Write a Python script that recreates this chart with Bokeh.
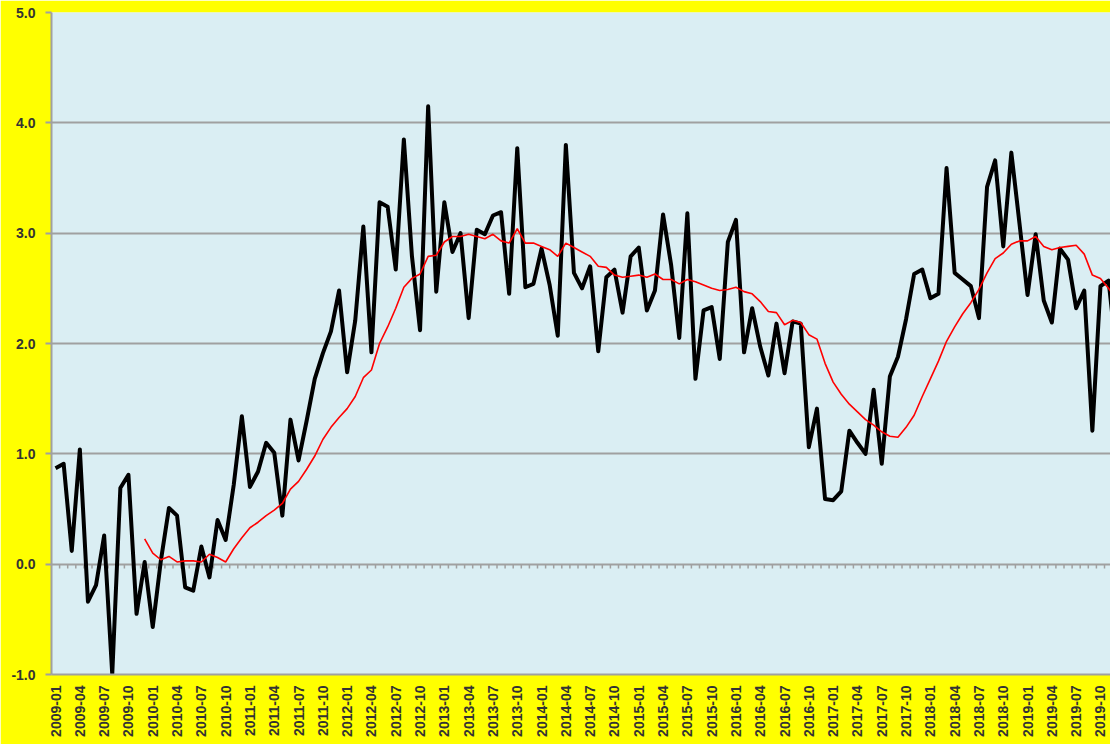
from bokeh.plotting import figure
from bokeh.models import FixedTicker, Range1d, NumeralTickFormatter
from bokeh.embed import file_html
from bokeh.resources import INLINE

# Month categories 2009-01 .. 2019-12
months = [f"{y}-{m:02d}" for y in range(2009, 2020) for m in range(1, 13)]

# Monthly values (black line)
monthly = [
    0.87, 0.91, 0.12, 1.04, -0.34, -0.19, 0.26, -1.00, 0.69, 0.81, -0.45, 0.02,   # 2009
    -0.57, 0.03, 0.51, 0.44, -0.21, -0.24, 0.16, -0.12, 0.40, 0.22, 0.72, 1.34,   # 2010
    0.70, 0.84, 1.10, 1.01, 0.44, 1.31, 0.94, 1.30, 1.68, 1.91, 2.11, 2.48,       # 2011
    1.74, 2.21, 3.06, 1.92, 3.28, 3.24, 2.67, 3.85, 2.79, 2.12, 4.15, 2.47,       # 2012
    3.28, 2.83, 3.00, 2.23, 3.03, 2.99, 3.16, 3.19, 2.45, 3.77, 2.51, 2.54,       # 2013
    2.86, 2.53, 2.07, 3.80, 2.64, 2.50, 2.70, 1.93, 2.60, 2.67, 2.28, 2.79,       # 2014
    2.87, 2.30, 2.48, 3.17, 2.71, 2.05, 3.18, 1.68, 2.30, 2.33, 1.86, 2.92,       # 2015
    3.12, 1.92, 2.32, 1.97, 1.71, 2.18, 1.73, 2.20, 2.18, 1.06, 1.41, 0.59,       # 2016
    0.58, 0.66, 1.21, 1.10, 1.00, 1.58, 0.91, 1.70, 1.88, 2.22, 2.63, 2.67,       # 2017
    2.41, 2.45, 3.59, 2.64, 2.58, 2.52, 2.23, 3.42, 3.66, 2.88, 3.73, 3.09,       # 2018
    2.44, 2.99, 2.39, 2.19, 2.86, 2.76, 2.32, 2.48, 1.21, 2.52, 2.57, 1.90,       # 2019
]

# 12-month moving average (red line), starts 2009-12
ma_start = "2009-12"
moving_avg = [
    0.23,                                                                          # 2009-12
    0.10, 0.04, 0.07, 0.02, 0.03, 0.03, 0.02, 0.09, 0.06, 0.02, 0.14, 0.24,       # 2010
    0.33, 0.38, 0.44, 0.49, 0.55, 0.68, 0.75, 0.86, 0.98, 1.13, 1.24, 1.33,       # 2011
    1.41, 1.52, 1.69, 1.76, 2.00, 2.15, 2.32, 2.51, 2.59, 2.63, 2.79, 2.80,       # 2012
    2.92, 2.97, 2.97, 2.99, 2.97, 2.95, 2.99, 2.93, 2.91, 3.04, 2.91, 2.91,       # 2013
    2.88, 2.85, 2.79, 2.91, 2.87, 2.83, 2.79, 2.70, 2.69, 2.62, 2.60, 2.61,       # 2014
    2.62, 2.60, 2.63, 2.58, 2.58, 2.54, 2.58, 2.56, 2.53, 2.50, 2.48, 2.49,       # 2015
    2.51, 2.47, 2.45, 2.38, 2.29, 2.28, 2.17, 2.21, 2.19, 2.08, 2.04, 1.82,       # 2016
    1.65, 1.54, 1.45, 1.38, 1.31, 1.26, 1.20, 1.16, 1.15, 1.24, 1.35, 1.52,       # 2017
    1.68, 1.84, 2.02, 2.15, 2.27, 2.37, 2.49, 2.64, 2.77, 2.82, 2.90, 2.93,       # 2018
    2.93, 2.97, 2.88, 2.85, 2.87, 2.88, 2.89, 2.81, 2.62, 2.59, 2.50, 2.40,       # 2019
]

y_ticks = [-1, 0, 1, 2, 3, 4, 5]

x_idx = list(range(len(monthly)))
ma_offset = months.index(ma_start)
ma_x = [ma_offset + i for i in range(len(moving_avg))]
label_ticks = list(range(0, len(months), 3))

GRID = "#a0a0a0"
TEXT = "#333333"

p = figure(width=1110, height=744,
           x_range=Range1d(-0.5, 130.24), y_range=Range1d(-1, 5),
           output_backend="svg", toolbar_location=None,
           min_border_left=51, min_border_right=0, min_border_top=12, min_border_bottom=70,
           background_fill_color="#DAEEF3", border_fill_color="#FFFF00",
           outline_line_color=None)

# y axis
p.yaxis.ticker = FixedTicker(ticks=y_ticks)
p.yaxis.formatter = NumeralTickFormatter(format="0.0")
p.yaxis.axis_line_color = GRID
p.yaxis.axis_line_width = 2
p.yaxis.major_tick_line_color = GRID
p.yaxis.major_tick_line_width = 2
p.yaxis.major_tick_out = 6
p.yaxis.major_tick_in = 0
p.yaxis.minor_tick_line_color = None
p.yaxis.major_label_standoff = 10
p.yaxis.major_label_text_font = "Liberation Sans"
p.yaxis.major_label_text_font_style = "bold"
p.yaxis.major_label_text_font_size = "14px"
p.yaxis.major_label_text_color = TEXT

# x axis
p.xaxis.ticker = FixedTicker(ticks=label_ticks)
p.xaxis.major_label_overrides = {i: months[i] for i in label_ticks}
p.xaxis.major_label_orientation = 3.14159265 / 2
p.xaxis.axis_line_color = GRID
p.xaxis.axis_line_width = 2
p.xaxis.major_tick_line_color = None
p.xaxis.major_tick_out = 0
p.xaxis.major_tick_in = 0
p.xaxis.minor_tick_line_color = None
p.xaxis.major_label_standoff = 11
p.xaxis.major_label_text_font = "Liberation Sans"
p.xaxis.major_label_text_font_style = "bold"
p.xaxis.major_label_text_font_size = "14px"
p.xaxis.major_label_text_color = TEXT

# grid
p.xgrid.grid_line_color = None
p.ygrid.ticker = FixedTicker(ticks=y_ticks)
p.ygrid.grid_line_color = GRID
p.ygrid.grid_line_width = 2

# small tick marks hanging below the zero line, between categories
tick_x = [i + 0.5 for i in x_idx]
p.segment(x0=tick_x, y0=[0] * len(tick_x), x1=tick_x, y1=[-0.04] * len(tick_x),
          line_color=GRID, line_width=1.5)

p.line(x_idx, monthly, line_color="black", line_width=4, line_join="round")
p.line(ma_x, moving_avg, line_color="#FF0000", line_width=1.6)

html = file_html(p, INLINE)
html = html.replace("<body>", '<body style="background-color:#FFFF00;">', 1)
open("out.html", "w").write(html)
